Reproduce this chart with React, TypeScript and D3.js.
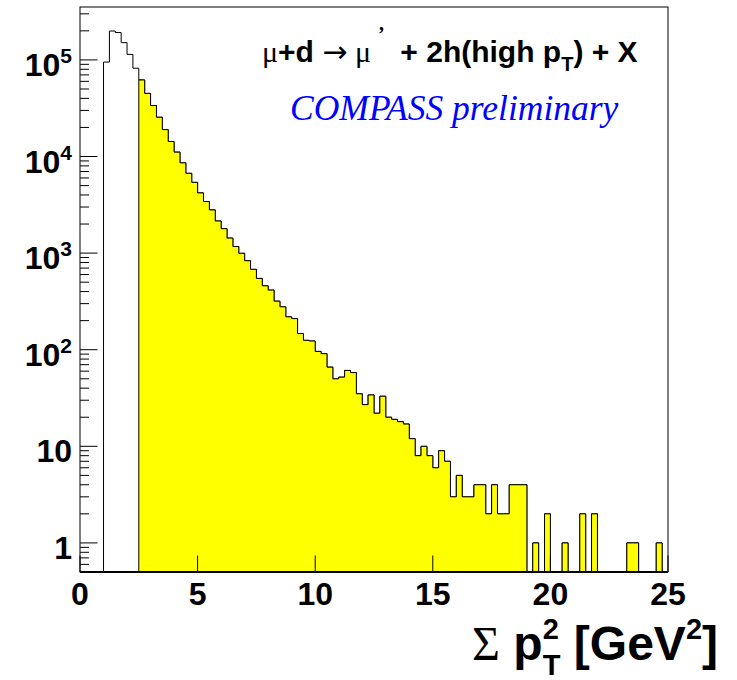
import React from "react";
import * as d3 from "d3";

// ---- data ----
const binLowEdges: number[] = d3.range(100).map((i) => i * 0.25);
const binWidth = 0.25;
const counts: number[] = [
  0, 0, 0, 0, 95000, 199000, 192000, 151000, 114000, 82000,
  62000, 45000, 33700, 25500, 19000, 14300, 11100, 8600, 6700, 5400,
  4200, 3420, 2800, 2150, 1790, 1430, 1170, 995, 834, 679,
  547, 459, 414, 318, 278, 219, 210, 147, 125, 123,
  96, 91, 66, 50, 52, 61, 58, 35, 27, 34,
  22, 33, 20, 19, 18, 17, 12, 8, 10, 8,
  6, 9, 7, 3, 5, 3, 3, 4, 4, 2,
  4, 2, 2, 4, 4, 4, 0, 1, 0, 2,
  0, 0, 1, 0, 0, 2, 0, 2, 0, 0,
  0, 0, 0, 1, 1, 0, 0, 0, 1, 0,
];
const yellowFrom = 2.5;
const xTicks: number[] = [0, 5, 10, 15, 20, 25];
const yMajorTicks: number[] = [1, 10, 100, 1000, 10000, 100000];
const yTickExponents: number[] = [0, 1, 2, 3, 4, 5];

const W = 737;
const H = 680;
const L = 80;
const R = 668;
const T = 7;
const B = 572;

const SANS = "'Liberation Sans', Arial, Helvetica, sans-serif";
const SERIF = "'Liberation Serif', 'Times New Roman', serif";

export default function App() {
  const x = d3.scaleLinear().domain([0, 25]).range([L, R]);
  const y = d3.scaleLog().domain([0.5, 3.53e5]).range([B, T]);
  const yv = (v: number) => (v > 0 ? Math.min(B, y(v)) : B);

  const line = d3.line<[number, number]>().x((d) => d[0]).y((d) => d[1]);

  const allPts: [number, number][] = [[x(0), B]];
  binLowEdges.forEach((lo, i) => {
    allPts.push([x(lo), yv(counts[i])]);
    allPts.push([x(lo + binWidth), yv(counts[i])]);
  });
  allPts.push([x(25), B]);

  const yelPts: [number, number][] = [[x(yellowFrom), B]];
  binLowEdges.forEach((lo, i) => {
    if (lo < yellowFrom - 1e-9) return;
    yelPts.push([x(lo), yv(counts[i])]);
    yelPts.push([x(lo + binWidth), yv(counts[i])]);
  });
  yelPts.push([x(25), B]);

  const minor: number[] = [];
  for (let e = -1; e <= 5; e++) {
    for (let k = 2; k <= 9; k++) {
      const v = k * Math.pow(10, e);
      if (v > 0.5 && v < 3.53e5) minor.push(v);
    }
  }

  return (
    <svg
      width={W}
      height={H}
      style={{ position: "absolute", left: 0, top: 0, background: "#fff" }}
    >
      <rect x={0} y={0} width={W} height={H} fill="#fff" />
      <path d={line(allPts) || ""} fill="none" stroke="#000" strokeWidth={1} />
      <path d={line(yelPts) || ""} fill="#ffff00" stroke="#000" strokeWidth={1} />

      <rect x={L} y={T} width={R - L} height={B - T} fill="none" stroke="#000" strokeWidth={1} />
      <line x1={L} x2={R} y1={B} y2={B} stroke="#000" strokeWidth={2} />

      {yMajorTicks.map((v) => (
        <line key={"M" + v} x1={L} x2={L + 17.5} y1={y(v)} y2={y(v)} stroke="#000" strokeWidth={1} />
      ))}
      {minor.map((v) => (
        <line key={"m" + v} x1={L} x2={L + 9} y1={y(v)} y2={y(v)} stroke="#000" strokeWidth={1} />
      ))}
      {xTicks.map((v) => (
        <line key={"x" + v} x1={x(v)} x2={x(v)} y1={B} y2={B - 16.5} stroke="#000" strokeWidth={1} />
      ))}

      {yMajorTicks.map((v, i) => {
        const e = yTickExponents[i];
        const by = y(v) + 16;
        return (
          <text key={"yl" + v} x={72} y={by} textAnchor="end" fontFamily={SANS} fontWeight="bold" fontSize={32}>
            {e === 0 ? "1" : e === 1 ? "10" : (
              <>
                <tspan>10</tspan>
                <tspan dy={-13} fontSize={21}>{e}</tspan>
              </>
            )}
          </text>
        );
      })}
      {xTicks.map((v) => (
        <text key={"xl" + v} x={x(v)} y={605} textAnchor="middle" fontFamily={SANS} fontWeight="bold" fontSize={32}>
          {v}
        </text>
      ))}

      {/* axis title */}
      <text x={718} y={660} textAnchor="end" fontFamily={SANS} fontWeight="bold" fontSize={48}>
        <tspan fontFamily={SERIF} fontWeight="normal">Σ</tspan>
        <tspan> p</tspan>
        <tspan dy={-21} fontSize={29}>2</tspan>
        <tspan dx={-16} dy={36} fontSize={29}>T</tspan>
        <tspan dy={-15}> [GeV</tspan>
        <tspan dy={-21} fontSize={29}>2</tspan>
        <tspan dy={21}>]</tspan>
      </text>

      {/* title */}
      <text x={262} y={62} fontFamily={SANS} fontWeight="bold" fontSize={30}>
        <tspan fontFamily={SERIF} fontWeight="normal">μ</tspan>
        <tspan>+d </tspan>
        <tspan fontFamily="'DejaVu Sans', sans-serif" fontWeight="normal">→</tspan>
        <tspan fontFamily={SERIF} fontWeight="normal"> μ</tspan>
        <tspan fontFamily={SERIF} fontWeight="bold" fontSize={20} dx={8} dy={-32}>,</tspan>
        <tspan dx={8} dy={32}>  + 2h(high p</tspan>
        <tspan dy={9} fontSize={20}>T</tspan>
        <tspan dy={-9}>) + X</tspan>
      </text>
      <text x={290} y={120} fontFamily={SERIF} fontStyle="italic" fontSize={35.5} fill="#0000ff">
        COMPASS preliminary
      </text>
    </svg>
  );
}
